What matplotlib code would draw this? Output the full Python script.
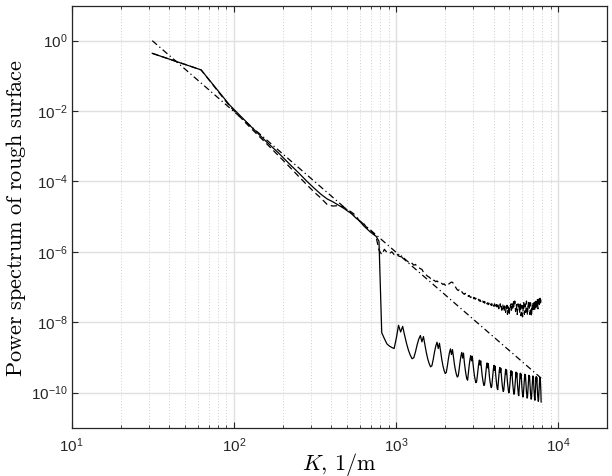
import numpy as np
import matplotlib
matplotlib.use("Agg")
import matplotlib.pyplot as plt
from matplotlib.ticker import LogLocator, NullLocator, NullFormatter, FixedLocator

# ---------------- data ----------------
k_step = 31.4                      # wavenumber spacing, 1/m
n_samples = 250
k = k_step * np.arange(1, n_samples + 1)

# log10 of power spectrum, solid curve
solid_log = [
    -0.36, -0.83, -1.83, -2.41, -2.85, -3.19, -3.50, -3.76, -4.00, -4.20,
    -4.37, -4.50, -4.58, -4.67, -4.75, -4.84, -4.92, -5.04, -5.12, -5.25,
    -5.34, -5.43, -5.50, -5.56, -5.70, -8.30, -8.47, -8.62, -8.68, -8.72,
    -8.75, -8.45, -8.09, -8.28, -8.12, -8.38, -8.61, -8.80, -8.94, -9.04,
    -9.01, -8.84, -8.64, -8.48, -8.38, -8.56, -8.41, -8.65, -8.87, -9.05,
    -9.18, -9.27, -9.24, -9.06, -8.85, -8.68, -8.57, -8.75, -8.60, -8.84,
    -9.06, -9.24, -9.37, -9.46, -9.43, -9.25, -9.04, -8.87, -8.76, -8.92,
    -8.78, -9.00, -9.20, -9.36, -9.48, -9.56, -9.53, -9.35, -9.14, -8.97,
    -8.86, -9.02, -8.88, -9.14, -9.33, -9.49, -9.61, -9.65, -9.44, -9.23,
    -9.06, -8.95, -9.10, -8.97, -9.18, -9.37, -9.53, -9.64, -9.72, -9.69,
    -9.53, -9.34, -9.18, -9.08, -9.22, -9.10, -9.30, -9.48, -9.62, -9.73,
    -9.80, -9.77, -9.61, -9.42, -9.26, -9.16, -9.30, -9.18, -9.37, -9.55,
    -9.69, -9.79, -9.86, -9.83, -9.67, -9.48, -9.32, -9.23, -9.37, -9.25,
    -9.47, -9.64, -9.78, -9.89, -9.92, -9.73, -9.54, -9.38, -9.29, -9.43,
    -9.31, -9.49, -9.66, -9.80, -9.90, -9.97, -9.94, -9.78, -9.59, -9.43,
    -9.34, -9.47, -9.36, -9.54, -9.71, -9.84, -9.94, -10.01, -9.98, -9.82,
    -9.63, -9.47, -9.38, -9.51, -9.40, -9.58, -9.75, -9.88, -9.98, -10.05,
    -10.02, -9.86, -9.67, -9.51, -9.42, -9.55, -9.44, -9.65, -9.82, -9.96,
    -10.06, -10.09, -9.90, -9.71, -9.55, -9.45, -9.59, -9.47, -9.65, -9.82,
    -9.96, -10.06, -10.13, -10.10, -9.94, -9.74, -9.58, -9.48, -9.62, -9.50,
    -9.68, -9.85, -9.99, -10.09, -10.16, -10.13, -9.97, -9.77, -9.61, -9.51,
    -9.65, -9.53, -9.71, -9.88, -10.02, -10.12, -10.19, -10.16, -9.99, -9.79,
    -9.63, -9.53, -9.67, -9.55, -9.77, -9.94, -10.08, -10.19, -10.22, -10.02,
    -9.82, -9.65, -9.55, -9.69, -9.57, -9.76, -9.94, -10.08, -10.18, -10.25,
    -10.22, -10.05, -9.84, -9.67, -9.57, -9.71, -9.59, -9.78, -9.96, -10.27,
]

# log10 of power spectrum, dashed curve
dashed_log = [
    -0.36, -0.83, -1.86, -2.46, -2.90, -3.27, -3.58, -3.86, -4.10, -4.31,
    -4.48, -4.66, -4.70, -4.69, -4.72, -4.80, -4.88, -4.97, -5.14, -5.18,
    -5.31, -5.38, -5.47, -5.58, -5.95, -6.08, -5.93, -6.02, -6.05, -6.00,
    -6.08, -6.04, -6.12, -6.14, -6.10, -6.20, -6.25, -6.29, -6.27, -6.33,
    -6.38, -6.36, -6.42, -6.45, -6.48, -6.50, -6.58, -6.62, -6.66, -6.70,
    -6.72, -6.76, -6.74, -6.80, -6.82, -6.85, -6.83, -6.86, -6.88, -6.86,
    -6.90, -6.93, -6.91, -6.95, -6.94, -6.97, -6.93, -6.90, -6.88, -6.86,
    -6.87, -6.90, -6.95, -7.00, -7.04, -7.08, -7.10, -7.08, -7.12, -7.15,
    -7.13, -7.17, -7.19, -7.21, -7.18, -7.22, -7.25, -7.23, -7.27, -7.24,
    -7.28, -7.30, -7.27, -7.31, -7.28, -7.33, -7.30, -7.35, -7.32, -7.36,
    -7.34, -7.38, -7.35, -7.40, -7.37, -7.41, -7.38, -7.43, -7.40, -7.44,
    -7.41, -7.46, -7.42, -7.47, -7.44, -7.48, -7.45, -7.50, -7.46, -7.52,
    -7.47, -7.51, -7.48, -7.53, -7.47, -7.52, -7.49, -7.55, -7.48, -7.53,
    -7.46, -7.55, -7.50, -7.58, -7.49, -7.54, -7.62, -7.51, -7.56, -7.48,
    -7.60, -7.53, -7.66, -7.55, -7.50, -7.62, -7.57, -7.68, -7.54, -7.60,
    -7.72, -7.58, -7.64, -7.52, -7.78, -7.62, -7.55, -7.70, -7.80, -7.62,
    -7.50, -7.58, -7.48, -7.66, -7.55, -7.45, -7.60, -7.52, -7.42, -7.58,
    -7.48, -7.40, -7.55, -7.70, -7.62, -7.50, -7.65, -7.78, -7.60, -7.48,
    -7.56, -7.44, -7.62, -7.75, -7.58, -7.46, -7.68, -7.82, -7.65, -7.52,
    -7.70, -7.85, -7.70, -7.55, -7.42, -7.60, -7.78, -7.62, -7.48, -7.58,
    -7.72, -7.55, -7.40, -7.52, -7.68, -7.80, -7.62, -7.46, -7.55, -7.38,
    -7.50, -7.65, -7.78, -7.60, -7.45, -7.58, -7.72, -7.84, -7.66, -7.50,
    -7.62, -7.45, -7.56, -7.70, -7.52, -7.40, -7.55, -7.68, -7.50, -7.38,
    -7.52, -7.64, -7.46, -7.58, -7.42, -7.55, -7.36, -7.50, -7.62, -7.45,
    -7.35, -7.48, -7.40, -7.55, -7.38, -7.32, -7.45, -7.36, -7.42, -7.48,
]

# reference power law (dash-dot line) end points
k_ref = [31.4, 7850.0]
p_ref = [1.0, 2.56e-10]

y_tick_values = [1e0, 1e-2, 1e-4, 1e-6, 1e-8, 1e-10]

# ---------------- figure ----------------
plt.rcParams["mathtext.fontset"] = "cm"
plt.rcParams["font.family"] = ["Liberation Sans", "DejaVu Sans"]

W, H = 612, 476
fig = plt.figure(figsize=(W / 100, H / 100), dpi=100)
left, right, top, bottom = 71.7, 607.0, 5.5, 427.7
ax = fig.add_axes([left / W, 1 - bottom / H, (right - left) / W, (bottom - top) / H])

ax.set_xscale("log")
ax.set_yscale("log")

ax.plot(k, 10.0 ** np.array(solid_log), color="black", lw=0.9, ls="-")
ax.plot(k, 10.0 ** np.array(dashed_log), color="black", lw=0.9, ls=(0, (5, 3)))
ax.plot(k_ref, p_ref, color="black", lw=0.9, ls=(0, (5, 2.5, 1, 2.5)))

ax.set_xlim(10, 2e4)
ax.set_ylim(1e-11, 1e1)

ax.xaxis.set_major_locator(LogLocator(base=10, numticks=10))
ax.xaxis.set_minor_locator(LogLocator(base=10, subs=np.arange(2, 10), numticks=20))
ax.xaxis.set_minor_formatter(NullFormatter())
ax.yaxis.set_major_locator(FixedLocator(y_tick_values))
ax.yaxis.set_minor_locator(NullLocator())

ax.grid(which="major", color="#e0e0e0", lw=1.0, ls="-")
ax.grid(which="minor", axis="x", color="#cfcfcf", lw=0.7, ls=(0, (1, 2)))
ax.set_axisbelow(True)

dark = "#262626"
ax.tick_params(which="both", direction="in", top=True, right=True,
               color=dark, labelcolor=dark, labelsize=11)
ax.tick_params(which="major", length=4, width=0.8)
ax.tick_params(which="minor", length=2.5, width=0.6)
ax.tick_params(axis="x", which="major", pad=6)
ax.tick_params(axis="y", which="major", pad=3)
for s in ax.spines.values():
    s.set_color(dark)
    s.set_linewidth(0.9)

fig.text(16 / W, 1 - 218 / H, r"$\mathrm{Power\ spectrum\ of\ rough\ surface}$",
         rotation=90, ha="center", va="center", fontsize=16, color="black")
fig.text((left + right) / 2 / W, 1 - 464 / H, r"$K,\,1/\mathrm{m}$",
         ha="center", va="center", fontsize=16, color="black")

fig.savefig("out.png", dpi=100)
